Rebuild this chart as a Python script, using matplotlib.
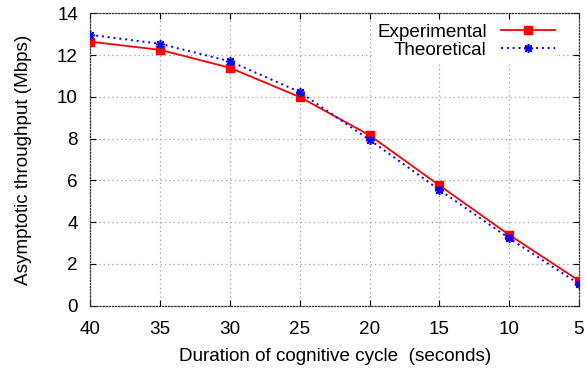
import numpy as np
import matplotlib.pyplot as plt

# cognitive cycle durations (s) and throughput (Mbps)
durations = [40, 35, 30, 25, 20, 15, 10, 5]
experimental = [12.64, 12.25, 11.39, 9.99, 8.16, 5.76, 3.39, 1.20]
theoretical = [12.97, 12.54, 11.70, 10.23, 7.94, 5.55, 3.23, 1.04]
xticks = [40, 35, 30, 25, 20, 15, 10, 5]
yticks = [0, 2, 4, 6, 8, 10, 12, 14]

plt.rcParams['font.family'] = ['Liberation Sans', 'DejaVu Sans']
plt.rcParams['font.size'] = 13.6

fig = plt.figure(figsize=(5.86, 3.74), dpi=100)
ax = fig.add_axes([0.1543, 0.1826, 0.8337, 0.7818])

ax.plot(durations, experimental, color='red', lw=1.3, marker='s', ms=5.2,
        label='Experimental', zorder=3)
ax.plot(durations, theoretical, color='blue', lw=1.4, ls=(0, (1, 2)),
        marker=(8, 2, 0), ms=6.5, mew=1.1, label='Theoretical', zorder=3)

ax.set_xlim(40, 5)
ax.set_ylim(0, 14)
ax.set_xticks(xticks)
ax.set_yticks(yticks)
ax.grid(True, color='#a0a0a0', ls=(0, (1, 2.5)), lw=0.9)
for s in ax.spines.values():
    s.set_linestyle((0, (1, 1.5)))
    s.set_linewidth(0.9)
    s.set_color('#333333')
ax.tick_params(direction='in', length=4, width=0.8, top=True, right=True)
ax.tick_params(axis='x', pad=11)
ax.tick_params(axis='y', pad=9)

ax.set_xlabel('Duration of cognitive cycle  (seconds)', labelpad=7)
ax.set_ylabel('Asymptotic throughput (Mbps)', labelpad=18)

leg = ax.legend(loc='upper right', bbox_to_anchor=(0.956, 0.975), markerfirst=False,
                frameon=True, fancybox=False, edgecolor='none', framealpha=1,
                borderpad=0.15, borderaxespad=0, labelspacing=0.05,
                handlelength=2.85, handletextpad=0.74)

fig.savefig('out.png', dpi=100)
